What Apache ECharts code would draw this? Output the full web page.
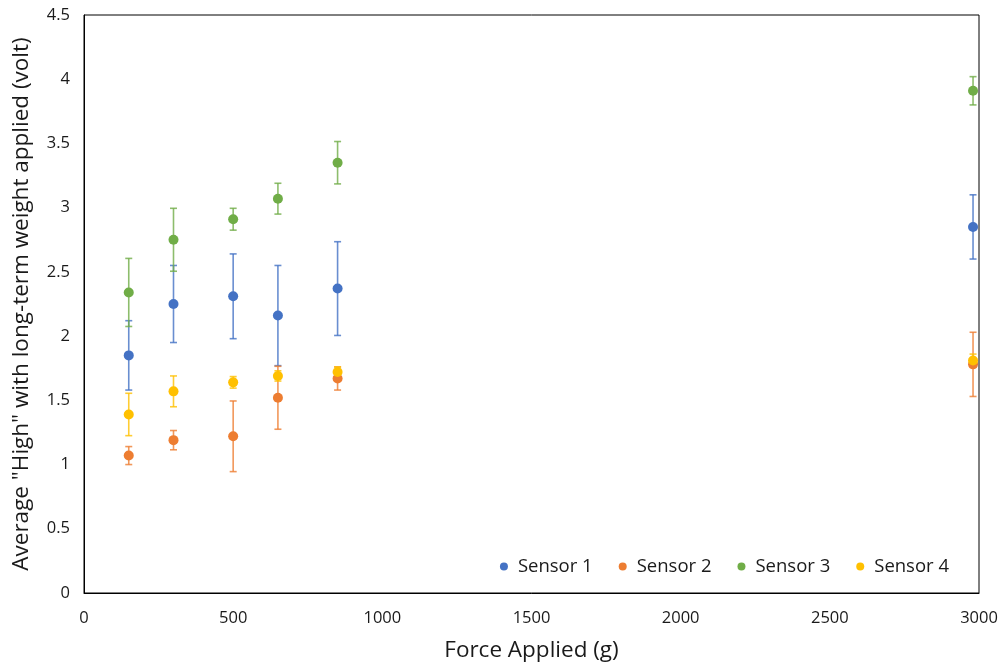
<!DOCTYPE html>
<html>
<head>
<meta charset="utf-8">
<script src="https://cdn.jsdelivr.net/npm/echarts@6/dist/echarts.min.js"></script>
<style>html,body{margin:0;padding:0;background:#fff}#c{width:1004px;height:667px}</style>
</head>
<body>
<div id="c"></div>
<script>
const forces = [150, 300, 500, 650, 850, 2980];
const sensorNames = ['Sensor 1', 'Sensor 2', 'Sensor 3', 'Sensor 4'];
const sensor1 = [1.85, 2.25, 2.31, 2.16, 2.37, 2.85];
const sensor1Err = [0.27, 0.30, 0.33, 0.39, 0.365, 0.25];
const sensor2 = [1.07, 1.19, 1.22, 1.52, 1.67, 1.78];
const sensor2Err = [0.07, 0.075, 0.275, 0.245, 0.09, 0.25];
const sensor3 = [2.34, 2.75, 2.91, 3.07, 3.35, 3.91];
const sensor3Err = [0.265, 0.245, 0.085, 0.12, 0.165, 0.11];
const sensor4 = [1.39, 1.57, 1.64, 1.69, 1.72, 1.81];
const sensor4Err = [0.165, 0.12, 0.045, 0.04, 0.04, 0.05];
const xTicks = [0, 500, 1000, 1500, 2000, 2500, 3000];
const yTicks = [0, 0.5, 1, 1.5, 2, 2.5, 3, 3.5, 4, 4.5];

const colors = ['#4472C4', '#ED7D31', '#70AD47', '#FFC000'];
const values = [sensor1, sensor2, sensor3, sensor4];
const errs = [sensor1Err, sensor2Err, sensor3Err, sensor4Err];
const font = '"Open Sans", "Liberation Sans", sans-serif';
const textColor = '#1a1a1a';

const series = [];
values.forEach((vals, i) => {
  const errData = vals.map((v, k) => [forces[k], v - errs[i][k], v + errs[i][k]]);
  series.push({
    type: 'custom',
    name: sensorNames[i] + ' err',
    data: errData,
    z: 2,
    silent: true,
    renderItem: function (params, api) {
      const x = api.value(0);
      const lo = api.coord([x, api.value(1)]);
      const hi = api.coord([x, api.value(2)]);
      const cw = 3.5;
      const style = { stroke: colors[i], lineWidth: 1.6, opacity: 0.8 };
      return {
        type: 'group',
        children: [
          { type: 'line', shape: { x1: lo[0], y1: lo[1], x2: hi[0], y2: hi[1] }, style: style },
          { type: 'line', shape: { x1: lo[0] - cw, y1: lo[1], x2: lo[0] + cw, y2: lo[1] }, style: style },
          { type: 'line', shape: { x1: hi[0] - cw, y1: hi[1], x2: hi[0] + cw, y2: hi[1] }, style: style }
        ]
      };
    },
    encode: { x: 0, y: [1, 2] }
  });
  series.push({
    type: 'scatter',
    name: sensorNames[i],
    data: vals.map((v, k) => [forces[k], v]),
    symbol: 'circle',
    symbolSize: 10,
    z: 3,
    itemStyle: { color: colors[i], opacity: 1 }
  });
});

const chart = echarts.init(document.getElementById('c'), null, { renderer: 'canvas' });
chart.setOption({
  animation: false,
  backgroundColor: '#fff',
  grid: { left: 84, right: 25, top: 15, bottom: 73, show: true, borderColor: '#000', borderWidth: 1, backgroundColor: 'transparent' },
  legend: {
    data: sensorNames,
    right: 50,
    top: 552,
    icon: 'circle',
    itemWidth: 18,
    itemHeight: 8,
    itemGap: 26,
    textStyle: { fontFamily: font, fontSize: 18.5, color: textColor }
  },
  xAxis: {
    type: 'value',
    min: xTicks[0],
    max: xTicks[xTicks.length - 1],
    interval: 500,
    name: 'Force Applied (g)',
    nameLocation: 'middle',
    nameGap: 46,
    nameTextStyle: { fontFamily: font, fontSize: 22.5, color: textColor },
    axisLine: { show: true, lineStyle: { color: '#000', width: 1 } },
    axisTick: { show: false },
    splitLine: { show: false },
    axisLabel: { fontFamily: font, fontSize: 16.5, color: textColor, margin: 17, formatter: v => String(v) }
  },
  yAxis: {
    type: 'value',
    min: yTicks[0],
    max: yTicks[yTicks.length - 1],
    interval: 0.5,
    name: 'Average "High" with long-term weight applied (volt)',
    nameLocation: 'middle',
    nameGap: 51,
    nameTextStyle: { fontFamily: font, fontSize: 22.5, color: textColor },
    axisLine: { show: true, lineStyle: { color: '#000', width: 1 } },
    axisTick: { show: false },
    splitLine: { show: false },
    axisLabel: { fontFamily: font, fontSize: 16.5, color: textColor, margin: 14, formatter: v => String(v) }
  },
  series: series
});
</script>
</body>
</html>
